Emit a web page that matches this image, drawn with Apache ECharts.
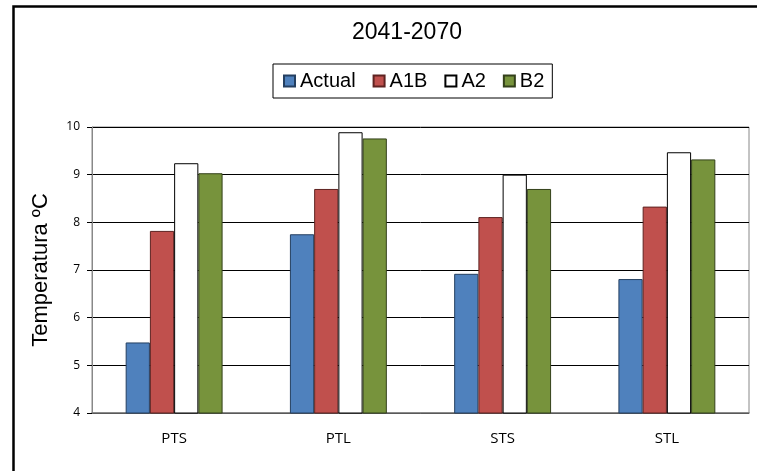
<!DOCTYPE html>
<html>
<head>
<meta charset="utf-8">
<script src="https://cdn.jsdelivr.net/npm/echarts@6/dist/echarts.min.js"></script>
<style>
  html, body { margin: 0; padding: 0; background: #fff; }
  #main { width: 757px; height: 471px; }
</style>
</head>
<body>
<div id="main"></div>
<script>
// datos
const categories = ['PTS', 'PTL', 'STS', 'STL'];
const seriesNames = ['Actual', 'A1B', 'A2', 'B2'];
const actual = [5.48, 7.75, 6.92, 6.81];
const a1b = [7.82, 8.70, 8.11, 8.33];
const a2 = [9.24, 9.89, 9.00, 9.47];
const b2 = [9.03, 9.76, 8.70, 9.32];
const yTicks = [4, 5, 6, 7, 8, 9, 10];

const fills = ['#4F81BD', '#C0504D', '#FFFFFF', '#77933C'];
const borders = ['#243F60', '#5E2321', '#000000', '#33401A'];
const values = [actual, a1b, a2, b2];

const chart = echarts.init(document.getElementById('main'), null, { renderer: 'canvas' });

const option = {
  backgroundColor: '#fff',
  animation: false,
  title: {
    text: '2041-2070',
    left: 352,
    top: 20,
    padding: 0,
    textStyle: {
      fontFamily: 'Liberation Sans',
      fontSize: 23,
      fontWeight: 'normal',
      color: '#000',
      lineHeight: 26
    }
  },
  legend: {
    data: seriesNames,
    left: 273,
    top: 64,
    width: 300,
    padding: [7, 8, 7, 10],
    borderColor: '#000',
    borderWidth: 1,
    itemWidth: 11,
    itemHeight: 11,
    itemGap: 17,
    icon: 'rect',
    textStyle: {
      fontFamily: 'Liberation Sans',
      fontSize: 20,
      color: '#000'
    }
  },
  graphic: [{
    type: 'rect',
    left: 11,
    top: 4,
    shape: { width: 800, height: 520 },
    style: { fill: 'none', stroke: '#000', lineWidth: 2.5 },
    silent: true,
    z: 100
  }],
  grid: {
    left: 92,
    right: 8,
    top: 127,
    bottom: 58,
    show: true,
    borderColor: '#888',
    borderWidth: 1
  },
  xAxis: {
    type: 'category',
    data: categories,
    axisLine: { show: true, lineStyle: { color: '#777', width: 1.5 } },
    axisTick: { show: false },
    axisLabel: {
      margin: 18,
      fontFamily: 'Open Sans',
      fontSize: 15,
      color: '#000'
    }
  },
  yAxis: {
    type: 'value',
    min: yTicks[0],
    max: yTicks[yTicks.length - 1],
    interval: 1,
    name: 'Temperatura ºC',
    nameLocation: 'middle',
    nameGap: 40,
    nameTextStyle: {
      fontFamily: 'Liberation Sans',
      fontSize: 22,
      color: '#000'
    },
    axisLine: { show: true, lineStyle: { color: '#888', width: 1 } },
    axisTick: { show: true, length: 5, lineStyle: { color: '#000' } },
    axisLabel: {
      margin: 12,
      fontFamily: 'Open Sans',
      fontSize: 12,
      color: '#000'
    },
    splitLine: { show: true, lineStyle: { color: '#000', width: 1 } }
  },
  series: seriesNames.map((name, i) => ({
    name: name,
    type: 'bar',
    data: values[i],
    barGap: '0%',
    barCategoryGap: '41%',
    itemStyle: {
      color: fills[i],
      borderColor: borders[i],
      borderWidth: 1
    }
  }))
};

chart.setOption(option);
</script>
</body>
</html>
